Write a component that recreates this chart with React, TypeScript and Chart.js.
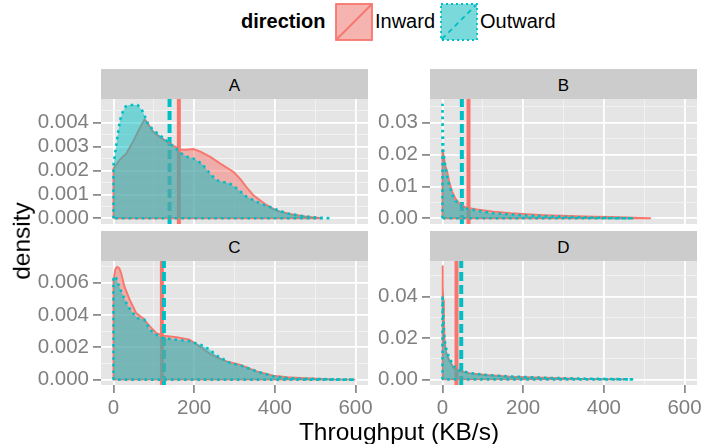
import React, { useEffect, useRef } from 'react';
import { Chart, registerables } from 'chart.js';

Chart.register(...registerables);

// ---------------- data ----------------
const panelNames = ['A', 'B', 'C', 'D'];
const directionNames = ['Inward', 'Outward'];

const xMajorTicks = [0, 200, 400, 600];
const xMinorTicks = [100, 300, 500];

const aInwardX = [0, 15, 32, 48, 65, 77, 85, 98, 114, 139, 164, 181, 197, 214, 239, 264, 297, 313, 330, 346, 379, 404, 437, 479, 516];
const aInwardY = [0.00209, 0.00244, 0.00272, 0.0032, 0.00377, 0.00414, 0.00397, 0.00362, 0.00341, 0.00314, 0.00288, 0.00287, 0.0029, 0.0028, 0.00258, 0.0023, 0.00195, 0.00167, 0.0013, 0.00098, 0.00056, 0.00032, 0.00018, 0.00007, 0];
const aOutwardX = [0, 8, 16, 23, 30, 38, 60, 67, 73, 85, 98, 114, 139, 168, 184, 197, 218, 239, 255, 272, 288, 305, 330, 363, 396, 429, 462, 504, 540];
const aOutwardY = [0.00223, 0.0032, 0.0041, 0.00446, 0.00468, 0.00474, 0.00474, 0.0046, 0.00446, 0.00397, 0.0037, 0.00349, 0.00314, 0.00272, 0.00256, 0.00251, 0.0023, 0.00188, 0.0016, 0.00152, 0.00146, 0.00126, 0.0009, 0.00063, 0.00042, 0.00021, 0.00011, 0.00003, 0];

const bInwardX = [0, 3, 7, 11.5, 17, 24, 32, 41, 50, 60, 85, 127, 168, 209, 250, 292, 333, 374, 416, 457, 490, 515];
const bInwardY = [0.0215, 0.0195, 0.0165, 0.0146, 0.0112, 0.0083, 0.0062, 0.0047, 0.0039, 0.0033, 0.0028, 0.0021, 0.0016, 0.0013, 0.001, 0.0008, 0.00065, 0.0005, 0.0004, 0.0003, 0.00015, 0];
const bOutwardX = [0, 0.8, 2, 5, 8, 12, 17, 24, 32, 44, 60, 85, 127, 168, 209, 250, 292, 333, 374, 420, 474];
const bOutwardY = [0.0356, 0.027, 0.021, 0.018, 0.0155, 0.0128, 0.0102, 0.0075, 0.0055, 0.0042, 0.0031, 0.0024, 0.0016, 0.0012, 0.0009, 0.0007, 0.0005, 0.00035, 0.0002, 0.0001, 0];

const cInwardX = [0, 4, 9, 14, 19, 27, 40, 56, 73, 90, 106, 123, 156, 189, 214, 239, 264, 280, 313, 355, 396, 430, 463, 546, 597];
const cInwardY = [0.00607, 0.0068, 0.00697, 0.0069, 0.00658, 0.00576, 0.00494, 0.00412, 0.0038, 0.00329, 0.00288, 0.00272, 0.00263, 0.00247, 0.00205, 0.0016, 0.0013, 0.00113, 0.00093, 0.00051, 0.00025, 0.00015, 0.0001, 0.00002, 0];
const cOutwardX = [0, 6.6, 12, 19, 32, 44, 60, 77, 90, 106, 123, 156, 189, 222, 239, 255, 289, 322, 355, 396, 430, 463, 546, 598];
const cOutwardY = [0.00638, 0.00628, 0.0059, 0.00545, 0.00473, 0.00422, 0.0038, 0.0037, 0.00309, 0.00278, 0.00257, 0.00247, 0.00237, 0.0021, 0.00185, 0.0015, 0.00103, 0.00082, 0.00051, 0.00021, 0.0001, 0.00006, 0.00002, 0];

const dInwardX = [0, 1, 2, 3.5, 5, 8, 15, 27, 44, 69, 110, 168, 250, 333, 416, 449];
const dInwardY = [0.0547, 0.045, 0.038, 0.028, 0.0194, 0.0135, 0.0097, 0.0056, 0.004, 0.0029, 0.0021, 0.0013, 0.0008, 0.0003, 0.00016, 0];
const dOutwardX = [0, 1, 2, 3.5, 5, 8, 15, 27, 44, 69, 110, 168, 250, 333, 416, 470];
const dOutwardY = [0.0395, 0.035, 0.0306, 0.024, 0.0194, 0.0155, 0.0113, 0.0065, 0.0042, 0.003, 0.0021, 0.0014, 0.0008, 0.0004, 0.0002, 0];

const inwardMeans = [162, 64.5, 120, 34.7];
const outwardMeans = [139, 48, 125, 46.4];

const aYMajor = [0, 0.001, 0.002, 0.003, 0.004];
const aYMinor = [0.0005, 0.0015, 0.0025, 0.0035, 0.0045];
const bYMajor = [0, 0.01, 0.02, 0.03];
const bYMinor = [0.005, 0.015, 0.025, 0.035];
const cYMajor = [0, 0.002, 0.004, 0.006];
const cYMinor = [0.001, 0.003, 0.005, 0.007];
const dYMajor = [0, 0.02, 0.04];
const dYMinor = [0.01, 0.03, 0.05];

const yDecimals = [3, 2, 3, 2];

// ---------------- styles / layout ----------------
const FONT = "'Liberation Sans', Arial, Helvetica, sans-serif";
const TICK_SIZE = 20.5;
const RED = '#F8766D';
const CYAN = '#00BFC4';
const RED_FILL = 'rgba(248,118,109,0.5)';
const CYAN_FILL = 'rgba(0,191,196,0.5)';
const X_RANGE = [-31, 631];
const Y_RANGES = [
  [-0.000238, 0.004993],
  [-0.00178, 0.0374],
  [-0.00033, 0.00733],
  [-0.0027, 0.0572],
];

const PLOT_W = 267;
const layoutFor = (i: number) => {
  const col = i % 2;
  const row = Math.floor(i / 2);
  const plotLeft = col === 0 ? 101 : 430;
  const plotTop = row === 0 ? 99 : 261;
  const plotBottom = row === 0 ? 224 : 385;
  const canvasLeft = col === 0 ? 0 : 368;
  const canvasRight = col === 0 ? 382 : 717;
  const showX = row === 1;
  const padTop = 9;
  const xAxisH = showX ? 50 : 0;
  const padBottom = showX ? 0 : 11;
  return {
    plotLeft,
    plotTop,
    plotBottom,
    canvasLeft,
    canvasTop: plotTop - padTop,
    canvasW: canvasRight - canvasLeft,
    canvasH: plotBottom - plotTop + padTop + xAxisH + padBottom,
    yAxisW: plotLeft - canvasLeft,
    padRight: canvasRight - (plotLeft + PLOT_W),
    padTop,
    padBottom,
    xAxisH,
    showX,
    stripTop: plotTop - 30,
  };
};

const seriesFor = [
  [aInwardX, aInwardY, aOutwardX, aOutwardY, aYMajor, aYMinor],
  [bInwardX, bInwardY, bOutwardX, bOutwardY, bYMajor, bYMinor],
  [cInwardX, cInwardY, cOutwardX, cOutwardY, cYMajor, cYMinor],
  [dInwardX, dInwardY, dOutwardX, dOutwardY, dYMajor, dYMinor],
];

type TickObj = { value: number; maj: boolean };
const mergeTicks = (major: number[], minor: number[]): TickObj[] =>
  [...major.map((v) => ({ value: v, maj: true })), ...minor.map((v) => ({ value: v, maj: false }))].sort(
    (a, b) => a.value - b.value
  );

const pts = (xs: number[], ys: number[]) => xs.map((x, i) => ({ x, y: ys[i] }));
const areaPts = (xs: number[], ys: number[]) => [{ x: xs[0], y: 0 }, ...pts(xs, ys)];
const outlinePts = (xs: number[], ys: number[]) => [{ x: xs[0], y: 0 }, ...pts(xs, ys), { x: xs[0], y: 0 }];

const panelBg = {
  id: 'panelBg',
  beforeDraw(chart: any) {
    const { ctx, chartArea: a } = chart;
    ctx.save();
    ctx.fillStyle = '#E5E5E5';
    ctx.fillRect(a.left, a.top, a.right - a.left, a.bottom - a.top);
    ctx.restore();
  },
};

const gridOpts = (drawTicks: boolean) => ({
  color: (c: any) => (c.tick && c.tick.maj ? '#FFFFFF' : '#F2F2F2'),
  lineWidth: (c: any) => (c.tick && c.tick.maj ? 1.8 : 0.9),
  drawTicks,
  tickLength: 8,
  tickWidth: 1.6,
  tickColor: (c: any) => (c.tick && c.tick.maj ? '#7F7F7F' : 'rgba(0,0,0,0)'),
});

function buildConfig(i: number): any {
  const L = layoutFor(i);
  const [inX, inY, outX, outY, yMaj, yMin] = seriesFor[i] as number[][];
  const [y0, y1] = Y_RANGES[i];
  const xTicks = mergeTicks(xMajorTicks, xMinorTicks);
  const yTicks = mergeTicks(yMaj, yMin);
  const dec = yDecimals[i];
  const base = { pointRadius: 0, pointHoverRadius: 0, tension: 0, borderJoinStyle: 'round' };
  return {
    type: 'line',
    data: {
      datasets: [
        {
          ...base,
          label: directionNames[0] + ' mean',
          data: [{ x: inwardMeans[i], y: y0 }, { x: inwardMeans[i], y: y1 }],
          borderColor: RED,
          borderWidth: 4,
          fill: false,
          order: 6,
        },
        {
          ...base,
          label: directionNames[1] + ' mean',
          data: [{ x: outwardMeans[i], y: y0 }, { x: outwardMeans[i], y: y1 }],
          borderColor: CYAN,
          borderWidth: 4,
          borderDash: [9, 4],
          fill: false,
          order: 5,
        },
        {
          ...base,
          label: directionNames[0],
          data: areaPts(inX, inY),
          borderWidth: 0,
          borderColor: 'rgba(0,0,0,0)',
          backgroundColor: RED_FILL,
          fill: 'origin',
          order: 4,
        },
        {
          ...base,
          label: directionNames[0] + ' outline',
          data: outlinePts(inX, inY),
          borderColor: RED,
          borderWidth: 1.9,
          fill: false,
          order: 3,
        },
        {
          ...base,
          label: directionNames[1],
          data: areaPts(outX, outY),
          borderWidth: 0,
          borderColor: 'rgba(0,0,0,0)',
          backgroundColor: CYAN_FILL,
          fill: 'origin',
          order: 2,
        },
        {
          ...base,
          label: directionNames[1] + ' outline',
          data: outlinePts(outX, outY),
          borderColor: CYAN,
          borderWidth: 2.6,
          borderDash: [2.6, 4],
          fill: false,
          order: 1,
        },
      ],
    },
    options: {
      responsive: false,
      maintainAspectRatio: false,
      animation: false,
      devicePixelRatio: 1,
      events: [],
      layout: {
        autoPadding: false,
        padding: { left: 0, top: L.padTop, right: L.padRight, bottom: L.padBottom },
      },
      plugins: { legend: { display: false }, tooltip: { enabled: false }, title: { display: false } },
      scales: {
        x: {
          type: 'linear',
          min: X_RANGE[0],
          max: X_RANGE[1],
          afterBuildTicks: (s: any) => {
            s.ticks = xTicks.map((t) => ({ ...t }));
          },
          afterFit: (s: any) => {
            s.height = L.xAxisH;
            s.paddingLeft = 0;
            s.paddingRight = 0;
          },
          border: { display: false },
          grid: gridOpts(L.showX),
          ticks: {
            display: L.showX,
            autoSkip: false,
            maxRotation: 0,
            padding: 3,
            color: '#7F7F7F',
            font: { family: FONT, size: TICK_SIZE },
            callback: (v: number, idx: number, ticks: any[]) => (ticks[idx] && ticks[idx].maj ? String(v) : ''),
          },
        },
        y: {
          type: 'linear',
          min: y0,
          max: y1,
          afterBuildTicks: (s: any) => {
            s.ticks = yTicks.map((t) => ({ ...t }));
          },
          afterFit: (s: any) => {
            s.width = L.yAxisW;
            s.paddingTop = 0;
            s.paddingBottom = 0;
          },
          border: { display: false },
          grid: gridOpts(true),
          ticks: {
            autoSkip: false,
            padding: 4,
            color: '#7F7F7F',
            font: { family: FONT, size: TICK_SIZE },
            callback: (v: number, idx: number, ticks: any[]) =>
              ticks[idx] && ticks[idx].maj ? Number(v).toFixed(dec) : '',
          },
        },
      },
    },
    plugins: [panelBg],
  };
}

function Panel({ index }: { index: number }) {
  const ref = useRef<HTMLCanvasElement | null>(null);
  const L = layoutFor(index);
  useEffect(() => {
    if (!ref.current) return;
    const chart = new Chart(ref.current, buildConfig(index));
    return () => chart.destroy();
  }, [index]);
  return (
    <>
      <canvas
        ref={ref}
        width={L.canvasW}
        height={L.canvasH}
        style={{ position: 'absolute', left: L.canvasLeft, top: L.canvasTop, width: L.canvasW, height: L.canvasH }}
      />
      <div
        style={{
          position: 'absolute',
          left: L.plotLeft,
          top: L.stripTop,
          width: PLOT_W,
          height: 30,
          background: '#CCCCCC',
        }}
      >
        <div
          style={{
            position: 'absolute',
            left: 0,
            right: 0,
            top: 7.5,
            textAlign: 'center',
            fontFamily: FONT,
            fontSize: 17,
            lineHeight: '17px',
            color: '#000',
          }}
        >
          {panelNames[index]}
        </div>
      </div>
    </>
  );
}

function LegendKey({ left, fill, stroke, borderDash, diagDash }: any) {
  return (
    <svg width={38} height={38} style={{ position: 'absolute', left: left - 1, top: 3 }}>
      <rect x={1} y={1} width={36} height={36} fill="#F2F2F2" />
      <rect x={1} y={1} width={36} height={36} fill={fill} stroke={stroke} strokeWidth={1.8} strokeDasharray={borderDash} />
      <line x1={2} y1={36} x2={36} y2={2} stroke={stroke} strokeWidth={1.8} strokeDasharray={diagDash} />
    </svg>
  );
}

const textStyle = (left: number, baseline: number, size: number, bold = false): React.CSSProperties => ({
  position: 'absolute',
  left,
  top: baseline - (size - 1.117 * size) / 2 - 0.905 * size,
  fontFamily: FONT,
  fontSize: size,
  lineHeight: `${size}px`,
  fontWeight: bold ? 'bold' : 'normal',
  color: '#000',
  whiteSpace: 'nowrap',
});

export default function App() {
  return (
    <div
      style={{
        position: 'absolute',
        left: 0,
        top: 0,
        width: 717,
        height: 444,
        background: '#FFFFFF',
        overflow: 'hidden',
      }}
    >
      {panelNames.map((_, i) => (
        <Panel key={i} index={i} />
      ))}

      {/* legend */}
      <div style={textStyle(241, 28.3, 20, true)}>direction</div>
      <LegendKey left={336} fill={RED_FILL} stroke={RED} />
      <div style={textStyle(375, 28.3, 20)}>{directionNames[0]}</div>
      <LegendKey left={441} fill={CYAN_FILL} stroke={CYAN} borderDash="2 3" diagDash="5 4" />
      <div style={textStyle(480, 28.3, 20)}>{directionNames[1]}</div>

      {/* axis titles */}
      <div
        style={{
          ...textStyle(101, 440.7, 24.5),
          width: 596,
          textAlign: 'center',
        }}
      >
        Throughput (KB/s)
      </div>
      <div
        style={{
          position: 'absolute',
          left: 21.5,
          top: 241,
          width: 120,
          height: 24.5,
          transform: 'translate(-50%, -50%) rotate(-90deg)',
          fontFamily: FONT,
          fontSize: 24.5,
          lineHeight: '24.5px',
          textAlign: 'center',
          color: '#000',
          whiteSpace: 'nowrap',
        }}
      >
        density
      </div>
    </div>
  );
}
